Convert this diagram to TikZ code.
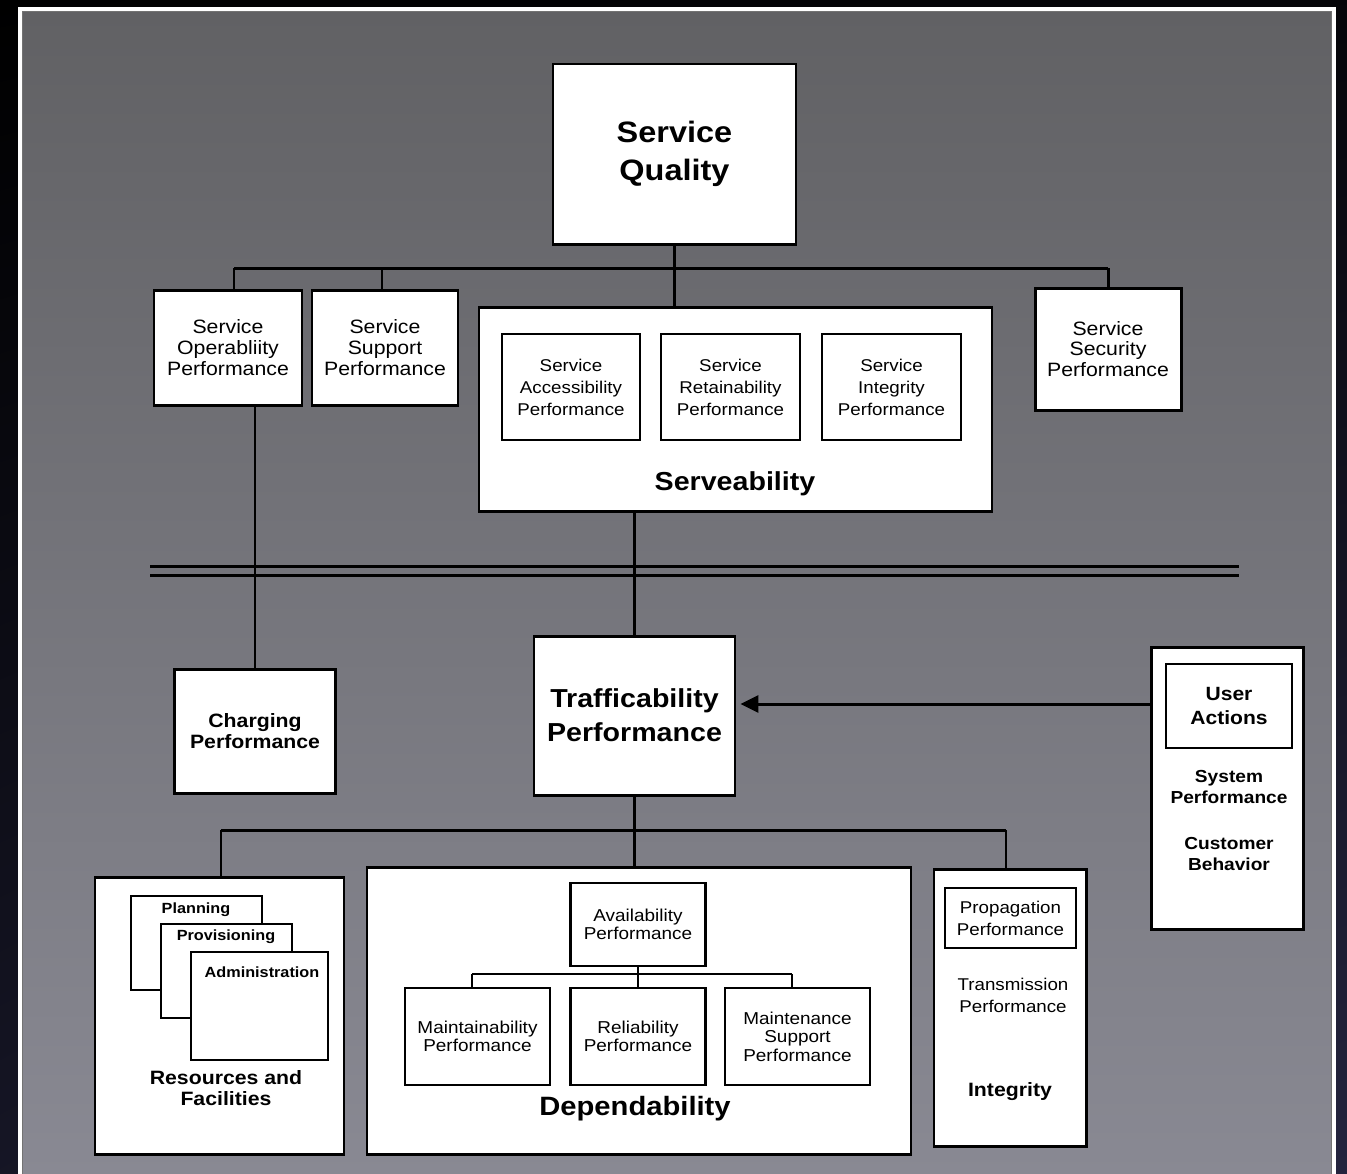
\documentclass[tikz,border=0pt]{standalone}
\usepackage{fontspec}
\setmainfont{Liberation Sans}[FakeStretch=1.1]
\usepackage{tikz}
\usetikzlibrary{arrows.meta,shadings}
\definecolor{bgtop}{RGB}{97,97,100}
\definecolor{bgbot}{RGB}{137,137,147}
\definecolor{navy}{RGB}{36,36,62}
\newcommand{\ftop}{\fontsize{16.8}{22}\selectfont\bfseries}
\newcommand{\fbig}{\fontsize{14.8}{19.3}\selectfont\bfseries}
\newcommand{\fmidb}{\fontsize{11}{11.9}\selectfont\bfseries}
\newcommand{\fsysb}{\fontsize{9.9}{12.5}\selectfont\bfseries}
\newcommand{\fuser}{\fontsize{10.9}{14.2}\selectfont\bfseries}
\newcommand{\fstack}{\fontsize{8.4}{10}\selectfont\bfseries}
\newcommand{\freg}{\fontsize{11}{11.9}\selectfont}
\newcommand{\fserv}{\fontsize{9.7}{12.5}\selectfont}
\newcommand{\fdep}{\fontsize{9.8}{10.6}\selectfont}

\begin{document}
\begin{tikzpicture}[x=0.02cm, y=-0.02cm,
	box/.style={draw=black, fill=white, line width=1.7pt, inner sep=0pt, align=center},
	inbox/.style={box, line width=1.4pt},
	lightbox/.style={box, line width=0.9pt},
	sz/.style 2 args={minimum width=#1*0.02cm, minimum height=#2*0.02cm},
	wire/.style={line width=1.7pt},
	finewire/.style={line width=1.1pt},
	txt/.style={inner sep=0pt, align=center}]

	% page and frame
	\useasboundingbox (0,0) rectangle (1347,1174);
	\shade[upper left=black, upper right=black!85!navy, lower left=black!40!navy, lower right=navy] (0,0) rectangle (1347,1174);
	\fill[white] (18,7) rectangle (1336,1200);
	\shade[top color=bgtop, bottom color=bgbot, draw=black!55, line width=0.5pt] (22.5,11.5) rectangle (1331,1176);

	% upper level
	\node[box, sz={243}{180}, font=\ftop] (sq) at (674.5,154) {Service\\Quality};
	\node[box, sz={148}{115}, font=\freg] (so) at (228,347.5) {Service\\Operabliity\\Performance};
	\node[box, sz={146}{115}, font=\freg] (ssup) at (385,347.5) {Service\\Support\\Performance};
	\node[box, sz={146}{122}, font=\freg] (ssec) at (1108,349) {Service\\Security\\Performance};
	\node[box, sz={513}{204}] (serv) at (735.5,409) {};
	\node[inbox, sz={138}{106}, font=\fserv] (sa) at (571,387) {Service\\Accessibility\\Performance};
	\node[inbox, sz={139}{106}, font=\fserv] (sr) at (730.5,387) {Service\\Retainability\\Performance};
	\node[inbox, sz={139}{106}, font=\fserv] (si) at (891.5,387) {Service\\Integrity\\Performance};
	\node[txt, font=\fbig] (servt) at (735,484) {Serveability};

	\coordinate (tbl) at (234,268);
	\coordinate (tbm) at (382,268);
	\coordinate (tbr) at (1108,268);
	\draw[wire] (sq.south) -- (sq.south |- serv.north);
	\draw[wire] (tbl) -- (tbr);
	\draw[wire] (tbl) -- (tbl |- so.north);
	\draw[wire] (tbm) -- (tbm |- ssup.north);
	\draw[wire] (tbr) -- (ssec.north);

	% middle level
	\node[box, sz={161}{124}, font=\fmidb] (chg) at (255,731) {Charging\\Performance};
	\node[box, sz={201}{159}, font=\fbig] (traf) at (634.5,715.5) {Trafficability\\Performance};
	\node[box, sz={152}{282}] (usr) at (1227,788) {};
	\node[lightbox, sz={126}{84}, font=\fuser] (ua) at (1229,706) {User\\Actions};
	\node[txt, font=\fsysb] (sysp) at (1229,787) {System\\Performance};
	\node[txt, font=\fsysb] (cust) at (1229,854) {Customer\\Behavior};

	\draw[wire] (chg.north) -- (chg.north |- so.south);
	\draw[wire] (traf.north) -- (traf.north |- serv.south);
	\coordinate (dll) at (150,566);
	\coordinate (dlr) at (1239,566);
	\coordinate (dul) at (150,575);
	\coordinate (dur) at (1239,575);
	\draw[wire] (dll) -- (dlr);
	\draw[wire] (dul) -- (dur);
	\coordinate (uin) at (1151,704);
	\draw[wire, -{Triangle[length=0.36cm, width=0.34cm]}, shorten >=0.08cm] (uin) -- (uin -| traf.east);

	% lower level
	\node[box, sz={249}{277}] (rf) at (219.5,1015.5) {};
	\node[box, line width=1.1pt, sz={131}{94}] (plan) at (196.5,943) {};
	\node[box, line width=1.1pt, sz={131}{94}] (prov) at (226.5,971) {};
	\node[box, line width=1.1pt, sz={137}{108}] (adm) at (259.5,1006) {};
	\node[txt, font=\fstack] (plant) at (196,910) {Planning};
	\node[txt, font=\fstack] (provt) at (226,937) {Provisioning};
	\node[txt, font=\fstack] (admt) at (262,972) {Administration};
	\node[txt, font=\fmidb] (rft) at (226,1088) {Resources and\\Facilities};

	\node[box, sz={544}{287}] (dep) at (639,1010.5) {};
	\node[inbox, sz={135}{83}, font=\fdep] (avail) at (638,924.5) {Availability\\Performance};
	\node[inbox, sz={145}{97}, font=\fdep] (maint) at (477.5,1036.5) {Maintainability\\Performance};
	\node[inbox, sz={135}{97}, font=\fdep] (rel) at (638,1036.5) {Reliability\\Performance};
	\node[inbox, sz={145}{97}, font=\fdep] (msup) at (797.5,1036.5) {Maintenance\\Support\\Performance};
	\node[txt, font=\fontsize{15.1}{18}\selectfont\bfseries] (dept) at (635,1109) {Dependability};

	\node[box, sz={152}{277}] (integ) at (1010,1007.5) {};
	\node[lightbox, sz={131}{60}, font=\fserv] (prop) at (1010.5,918) {Propagation\\Performance};
	\node[txt, font=\fserv] (trans) at (1013,995) {Transmission\\Performance};
	\node[txt, font=\fontsize{11}{13}\selectfont\bfseries] (integt) at (1010,1092) {Integrity};

	\coordinate (bbl) at (221,830);
	\coordinate (bbr) at (1006,830);
	\draw[wire] (traf.south) -- (traf.south |- dep.north);
	\draw[wire] (bbl) -- (bbr);
	\draw[wire] (bbl) -- (bbl |- rf.north);
	\draw[wire] (bbr) -- (bbr |- integ.north);

	\coordinate (dbl) at (472,974);
	\coordinate (dbr) at (792,974);
	\draw[finewire, black] (avail.south) -- (rel.north);
	\draw[finewire] (dbl) -- (dbr);
	\draw[finewire] (dbl) -- (dbl |- maint.north);
	\draw[finewire] (dbr) -- (dbr |- msup.north);

\end{tikzpicture}
\end{document}
